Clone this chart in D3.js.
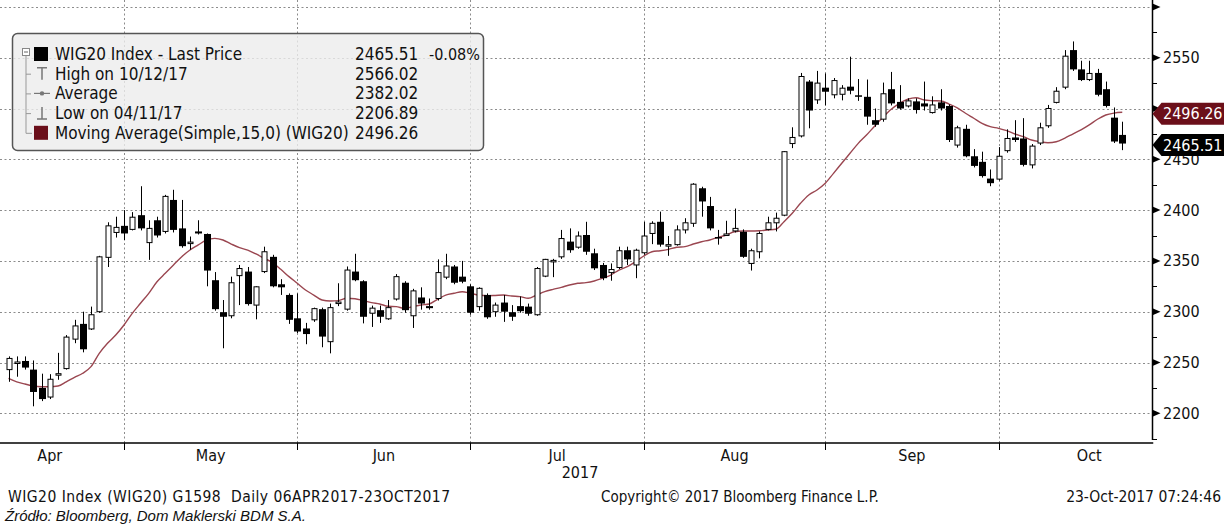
<!DOCTYPE html>
<html>
<head>
<meta charset="utf-8">
<script src="https://cdn.jsdelivr.net/npm/d3@7"></script>
<style>
  body { margin: 0; background: #fff; }
  svg { display: block; }
  text { font-family: 'DejaVu Sans Condensed', 'DejaVu Sans', sans-serif; font-stretch: condensed; }
</style>
</head>
<body>
<div id="chart"></div>
<script>
// trading days 06 Apr - 20 Oct 2017 (MM-DD)
const dates = [
  "04-06","04-07","04-10","04-11","04-12","04-13","04-18","04-19","04-20","04-21","04-24","04-25","04-26","04-27","04-28",
  "05-02","05-04","05-05","05-08","05-09","05-10","05-11","05-12","05-15","05-16","05-17","05-18","05-19","05-22","05-23","05-24","05-25","05-26","05-29","05-30","05-31",
  "06-01","06-02","06-05","06-06","06-07","06-08","06-09","06-12","06-13","06-14","06-16","06-19","06-20","06-21","06-22","06-23","06-26","06-27","06-28","06-29","06-30",
  "07-03","07-04","07-05","07-06","07-07","07-10","07-11","07-12","07-13","07-14","07-17","07-18","07-19","07-20","07-21","07-24","07-25","07-26","07-27","07-28","07-31",
  "08-01","08-02","08-03","08-04","08-07","08-08","08-09","08-10","08-11","08-14","08-16","08-17","08-18","08-21","08-22","08-23","08-24","08-25","08-28","08-29","08-30","08-31",
  "09-01","09-04","09-05","09-06","09-07","09-08","09-11","09-12","09-13","09-14","09-15","09-18","09-19","09-20","09-21","09-22","09-25","09-26","09-27","09-28","09-29",
  "10-02","10-03","10-04","10-05","10-06","10-09","10-10","10-11","10-12","10-13","10-16","10-17","10-18","10-19","10-20"
];

const open = [
  2243,2250,2251.5,2243,2225,2216,2238,2244,2273,2288,2283,2300,2353.5,2378,2384.5,
  2381,2395,2368,2390,2379,2410,2382,2368,2379,2376.5,2331,2299.5,2296,2335.5,2339.5,2306.5,2339.5,2354,2327,2316.5,2293.5,
  2283.5,2292,2302.5,2270.5,2309,2302.5,2339.5,2330,2298.5,2301.5,2293,2312.5,2328.5,2296,2314,2305.5,2313,2334,2344.5,2334.5,2325,
  2305,2316.5,2300,2309,2299.5,2305.5,2305,2297,2335,2350,2354,2369,2363.5,2375.5,2357.5,2346,2338.5,2343.5,2360.5,2346,2358,
  2377,2388.5,2365.5,2366,2380.5,2387,2421.5,2404,2373.5,2376,2379.5,2378.7,2347.5,2359,2381,2387.5,2395,2465.5,2473,2526.5,2508.5,2520.5,
  2513.5,2514,2521.5,2513,2511.5,2488.5,2489.5,2519,2506.5,2502.5,2507,2505,2496,2506,2502.5,2464,2480,2453,2447.5,2431,2430.5,
  2458.5,2471.5,2470.5,2444.5,2466,2483,2506,2521,2557.5,2538.5,2528.5,2535,2519,2491,2474
];
const high = [
  2256,2256,2256,2252,2239,2238.5,2259.5,2277,2292,2300,2305,2355,2388,2393.5,2400,
  2398,2423.5,2390,2393.5,2415,2420,2410,2374,2390,2377,2339,2311.5,2334.5,2346,2344,2325,2364,2356,2332,2318,2318,
  2289,2304,2304,2308,2328,2344.5,2357,2331,2306,2306,2311.5,2337,2330,2322.5,2324,2313,2351.5,2357,2346,2350,2327,
  2324,2318,2309,2316.5,2306.5,2315,2308,2344,2352,2352,2380.5,2382,2379,2388.5,2362,2348,2347.5,2364,2364,2362,2388.5,
  2389,2398.5,2374.5,2385,2392,2426.5,2423,2413,2380.5,2389.5,2401.5,2381,2362,2379,2393.5,2397.5,2458,2481.5,2535,2528,2537,2534.5,
  2530,2523,2551,2529,2528.5,2500,2525.5,2536,2523,2510,2510,2526.5,2512,2519,2504,2483,2484,2460,2457.5,2440,2462,
  2479.5,2488.5,2490.5,2465,2486,2503.5,2521,2557.5,2566.02,2547,2547,2539,2526.5,2501,2487
];
const low = [
  2231,2236,2243,2206.89,2212,2214,2233,2243,2269,2260,2282,2299,2344,2373,2370.5,
  2380,2380,2351,2373,2377,2378,2363,2361,2376,2325,2301,2264,2293.5,2306.5,2306,2292.5,2338,2324,2316.5,2288,2279,
  2268,2290,2265,2259,2305.5,2301,2330,2288.5,2285,2289,2292,2311,2299,2284,2302,2302,2311,2332,2327,2328,2297,
  2301,2293,2295,2290,2291,2299,2296,2296,2334,2334,2352,2358,2362,2356,2341,2331,2330.5,2342,2346,2333,2356,
  2366.5,2364,2355,2365,2377,2383.5,2393.5,2380,2366,2375,2378,2353,2340.5,2352.5,2380,2379,2394,2461,2471.5,2480.5,2504.5,2503,
  2510,2508,2514,2507.5,2484,2482,2487,2503,2499,2501,2495,2498,2495,2498,2467,2461.5,2452,2442,2432,2423.5,2429,
  2456.5,2467,2443,2441,2464,2481,2505,2519,2537,2527,2527,2512,2501,2466,2459
];
const close = [
  2254,2250.5,2245,2221,2214,2233.5,2239,2275,2286,2263,2297,2354,2384.5,2383,2377,
  2393,2382,2382,2375,2413.5,2380.5,2364.5,2368.5,2377,2340.5,2302.5,2295,2328.5,2342.5,2307.5,2324.5,2359,2325,2324,2292,2280.5,
  2278,2303,2275.5,2304,2309.5,2341,2331,2295,2303.5,2295,2304,2334.5,2301.5,2320.5,2308,2303.5,2338.5,2345,2328.5,2329.5,2299,
  2323,2294.5,2306.5,2300,2295,2300.5,2298,2342.5,2351.5,2350.5,2372,2360.5,2374.5,2359,2342.7,2333,2341.5,2360,2351.5,2360.5,2374.5,
  2387,2366,2366,2380.5,2387.5,2425.5,2408.5,2382,2373,2376.5,2382,2354,2360,2377,2387.5,2392,2457.5,2471.5,2531.5,2498,2525,2516.5,
  2527.5,2520,2517.5,2512.5,2492,2484,2514.5,2505,2500,2507.5,2498.5,2502,2503.5,2500,2469,2481,2453,2443.5,2433.5,2426.5,2453,
  2470.5,2469,2444.5,2463,2481,2500,2517,2551.5,2538.5,2528,2534.5,2513.5,2502.5,2467.5,2465.51
];
// Moving Average (Simple, 15) as drawn
const ma15 = [
  2234.4,2231,2228.8,2226.9,2226.2,2226.2,2226.9,2231,2235.4,2239.4,2245.9,2259,2268.9,2277,2286.9,
  2298.4,2308.3,2318.1,2329.5,2337.8,2346,2354.1,2360.7,2365.7,2370.6,2372.2,2370.6,2366.6,2363,2360.7,2356.8,2352.5,2348.3,2341.7,2334.5,2328,
  2321.4,2316.4,2311.5,2310.5,2310.9,2313.2,2312.8,2310.9,2308.9,2307.6,2305.3,2305,2303.3,2305,2306.6,2307.6,2312.2,2316.4,2318.1,2319.7,2318.1,
  2316.4,2315.7,2316,2316.4,2315.4,2314.8,2313.2,2316.4,2319.7,2322,2324,2326.3,2328,2328.6,2330.2,2332.9,2336.1,2341,2344.3,2349.2,2354.8,
  2359,2360,2361.4,2363.4,2364,2366.6,2368.9,2370.6,2373.2,2375.5,2378.7,2379.4,2379.4,2379.7,2380.4,2381.1,2388.6,2396.9,2406.7,2414.9,2419.8,2426.4,
  2436.2,2446.1,2455.9,2465.7,2473.9,2482.8,2491.3,2499.2,2505.1,2509.1,2510.6,2508.4,2507.7,2507.4,2504.4,2500.7,2495.3,2490.4,2485.4,2482.1,2480.5,
  2478.2,2474.9,2472.3,2469,2467.3,2466.3,2467.3,2470.7,2474.9,2478.9,2483.8,2489.4,2493.6,2495.5,2496.26
];

const yTicks = [2200, 2250, 2300, 2350, 2400, 2450, 2500, 2550, 2600];
const yLabels = ["2200", "2250", "2300", "2350", "2400", "2450", "", "2550", ""];
const yMinor = [2175, 2225, 2275, 2325, 2375, 2425, 2475, 2525, 2575];
const monthNames = ["Apr", "May", "Jun", "Jul", "Aug", "Sep", "Oct"];

const legendRows = [
  {label: "WIG20 Index - Last Price", value: "2465.51", extra: "-0.08%"},
  {label: "High on 10/12/17", value: "2566.02"},
  {label: "Average", value: "2382.02"},
  {label: "Low on 04/11/17", value: "2206.89"},
  {label: "Moving Average(Simple,15,0) (WIG20)", value: "2496.26"}
];
const lastPrice = 2465.51;
const lastMA = 2496.26;

const width = 1227, height = 524;
const axisX = 1152.5, axisY = 443;
const maColor = "#6b0f1a";

const svg = d3.select("#chart").append("svg")
  .attr("width", width).attr("height", height)
  .attr("viewBox", `0 0 ${width} ${height}`);

const x = d3.scaleLinear().domain([0, dates.length - 1]).range([8.5, 8.5 + 8.25 * (dates.length - 1)]);
const y = d3.scaleLinear().domain([2200, 2600]).range([413.3, 6.9]);

// month-end indices (last trading day of each month)
const monthEnds = [];
for (let i = 0; i < dates.length - 1; i++) {
  if (dates[i].slice(0, 2) !== dates[i + 1].slice(0, 2)) monthEnds.push(i);
}
// Mar 31 lies 4 trading days before the first day, Oct 31 seven after the last one
const bounds = [-4, ...monthEnds, dates.length - 1 + 7];

// gridlines
const grid = svg.append("g").attr("stroke", "#8c8c8c").attr("stroke-width", 1)
  .attr("stroke-dasharray", "2,2.5");
grid.selectAll(".hg").data(yTicks).enter().append("line")
  .attr("x1", 0).attr("x2", axisX)
  .attr("y1", d => Math.round(y(d)) + 0.5).attr("y2", d => Math.round(y(d)) + 0.5);
grid.selectAll(".vg").data(monthEnds).enter().append("line")
  .attr("x1", d => Math.round(x(d)) + 0.5).attr("x2", d => Math.round(x(d)) + 0.5)
  .attr("y1", 0).attr("y2", axisY);

// moving average
svg.append("path")
  .datum(ma15)
  .attr("fill", "none")
  .attr("stroke", "#9a4650")
  .attr("stroke-width", 1.4)
  .attr("d", d3.line().x((d, i) => x(i)).y(d => y(d)).curve(d3.curveMonotoneX));

// candles
const candles = svg.append("g").selectAll("g").data(dates).enter().append("g");
candles.append("line")
  .attr("x1", (d, i) => Math.round(x(i)) + 0.5).attr("x2", (d, i) => Math.round(x(i)) + 0.5)
  .attr("y1", (d, i) => y(high[i])).attr("y2", (d, i) => y(low[i]))
  .attr("stroke", "#000").attr("stroke-width", 1);
candles.append("rect")
  .attr("x", (d, i) => close[i] >= open[i] ? Math.round(x(i)) - 2 : Math.round(x(i)) - 3)
  .attr("width", (d, i) => close[i] >= open[i] ? 5 : 7)
  .attr("y", (d, i) => y(Math.max(open[i], close[i])))
  .attr("height", (d, i) => Math.max(1.5, Math.abs(y(open[i]) - y(close[i]))))
  .attr("fill", (d, i) => close[i] >= open[i] ? "#fff" : "#000")
  .attr("stroke", (d, i) => close[i] >= open[i] ? "#000" : "none")
  .attr("stroke-width", 1);

// legend
const lg = svg.append("g");
lg.append("rect")
  .attr("x", 12.5).attr("y", 33.5).attr("width", 471).attr("height", 117).attr("rx", 5)
  .attr("fill", "#ececec").attr("fill-opacity", 0.8)
  .attr("stroke", "#555").attr("stroke-width", 1.5);
const rowY = i => 54 + i * 19.7;
// tree lines
lg.append("rect").attr("x", 22.5).attr("y", 48.5).attr("width", 7).attr("height", 7)
  .attr("fill", "#fff").attr("stroke", "#888");
lg.append("line").attr("x1", 24).attr("x2", 28).attr("y1", 52).attr("y2", 52).attr("stroke", "#666");
lg.append("path").attr("fill", "none").attr("stroke", "#999").attr("stroke-width", 1)
  .attr("d", `M26,56V${rowY(4) + 0.5}H32` +
    [1, 2, 3].map(i => `M26,${rowY(i) + 0.5}H31`).join(""));
// icons
lg.append("rect").attr("x", 34).attr("y", 47).attr("width", 14).attr("height", 14).attr("fill", "#000");
lg.append("path").attr("fill", "none").attr("stroke", "#777").attr("stroke-width", 1.5)
  .attr("d", `M37,${rowY(1) - 6}H47M42,${rowY(1) - 6}V${rowY(1) + 6}`);
lg.append("path").attr("fill", "none").attr("stroke", "#777").attr("stroke-width", 1.2)
  .attr("d", `M34,${rowY(2)}H50`);
lg.append("circle").attr("cx", 42).attr("cy", rowY(2)).attr("r", 2.2).attr("fill", "#777");
lg.append("path").attr("fill", "none").attr("stroke", "#777").attr("stroke-width", 1.5)
  .attr("d", `M42,${rowY(3) - 6}V${rowY(3) + 6}M37,${rowY(3) + 6}H47`);
lg.append("rect").attr("x", 34).attr("y", rowY(4) - 7).attr("width", 14).attr("height", 14).attr("fill", maColor);

lg.selectAll(".lt").data(legendRows).enter().append("text")
  .attr("x", 55).attr("y", (d, i) => rowY(i) + 6)
  .attr("font-size", "17px").attr("fill", "#111").text(d => d.label);
lg.selectAll(".lv").data(legendRows).enter().append("text")
  .attr("x", 355).attr("y", (d, i) => rowY(i) + 6)
  .attr("font-size", "17px").attr("fill", "#111").text(d => d.value);
lg.append("text").attr("x", 429).attr("y", rowY(0) + 6)
  .attr("font-size", "16px").attr("fill", "#111").text(legendRows[0].extra);

// right axis
const ax = svg.append("g");
ax.append("line").attr("x1", axisX).attr("x2", axisX).attr("y1", 0).attr("y2", 440)
  .attr("stroke", "#000").attr("stroke-width", 1.5);
ax.selectAll(".mj").data(yTicks).enter().append("path")
  .attr("d", d => `M${axisX},${y(d) - 3.5}L${axisX + 8},${y(d)}L${axisX},${y(d) + 3.5}Z`)
  .attr("fill", "#000");
ax.selectAll(".mn").data(yMinor).enter().append("line")
  .attr("x1", axisX).attr("x2", axisX + 4.5)
  .attr("y1", d => Math.round(y(d)) + 0.5).attr("y2", d => Math.round(y(d)) + 0.5)
  .attr("stroke", "#000");
ax.selectAll(".yl").data(yTicks).enter().append("text")
  .attr("x", 1163).attr("y", d => y(d) + 5.5)
  .attr("font-size", "16px").attr("fill", "#111")
  .text((d, i) => yLabels[i]);

// price tags
function tag(v, fill) {
  const yc = y(v) + 1.5;
  svg.append("path")
    .attr("d", `M${axisX},${yc}L${axisX + 9},${yc - 11}H1224V${yc + 11}H${axisX + 9}Z`)
    .attr("fill", fill);
  svg.append("text").attr("x", 1163).attr("y", yc + 5.5)
    .attr("font-size", "16px").attr("fill", "#fff").text(v.toFixed(2));
}
tag(lastMA, maColor);
tag(lastPrice, "#000");

// bottom axis
const bx = svg.append("g");
bx.append("line").attr("x1", 0).attr("x2", axisX + 0.75).attr("y1", axisY).attr("y2", axisY)
  .attr("stroke", "#000").attr("stroke-width", 1.5);
bx.selectAll(".bt").data(monthEnds).enter().append("line")
  .attr("x1", d => Math.round(x(d)) + 0.5).attr("x2", d => Math.round(x(d)) + 0.5)
  .attr("y1", axisY).attr("y2", axisY + 7)
  .attr("stroke", "#000").attr("stroke-width", 1);
bx.selectAll(".ml").data(monthNames).enter().append("text")
  .attr("x", (d, i) => x((bounds[i] + bounds[i + 1]) / 2))
  .attr("y", 461).attr("text-anchor", "middle")
  .attr("font-size", "16px").attr("fill", "#111").text(d => d);
bx.append("text").attr("x", 580).attr("y", 478).attr("text-anchor", "middle")
  .attr("font-size", "16px").attr("fill", "#111").text("2017");

// footer
svg.append("text").attr("x", 8).attr("y", 502).attr("font-size", "15.5px").attr("fill", "#111")
  .attr("textLength", 442).attr("lengthAdjust", "spacing")
  .text("WIG20 Index (WIG20) G1598  Daily 06APR2017-23OCT2017").style("white-space", "pre");
svg.append("text").attr("x", 601).attr("y", 502).attr("font-size", "15px").attr("fill", "#111")
  .text("Copyright\u00a9 2017 Bloomberg Finance L.P.");
svg.append("text").attr("x", 1221).attr("y", 502).attr("text-anchor", "end")
  .attr("font-size", "15.5px").attr("fill", "#111").text("23-Oct-2017 07:24:46");
svg.append("text").attr("x", 5).attr("y", 521).attr("font-size", "15px").attr("fill", "#111")
  .style("font-family", "'Liberation Sans', Arial, sans-serif").style("font-style", "italic")
  .style("font-stretch", "normal")
  .text("Źródło: Bloomberg, Dom Maklerski BDM S.A.");
</script>
</body>
</html>
